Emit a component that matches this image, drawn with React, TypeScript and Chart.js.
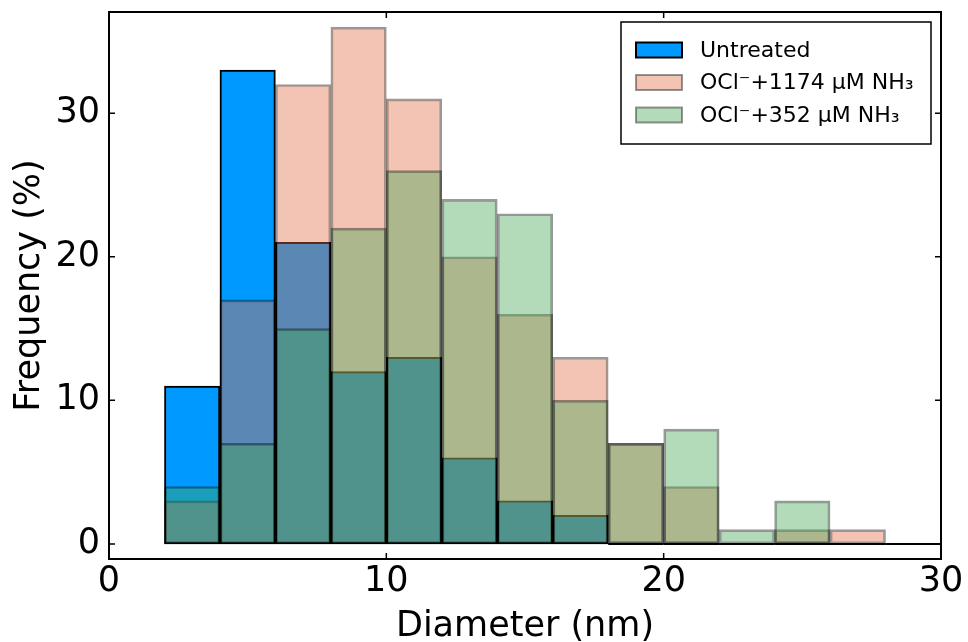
import React, { useEffect, useRef } from "react";
import { Chart, registerables } from "chart.js";

Chart.register(...registerables);

// ---- data ----
const binWidth = 2;
const binStarts = [2, 4, 6, 8, 10, 12, 14, 16, 18, 20, 22, 24, 26, 28];
const untreated = [11, 33, 21, 12, 13, 6, 3, 2, 0, 0, 0, 0, 0, 0];
const ocl1174 = [3, 17, 32, 36, 31, 20, 16, 13, 7, 4, 0, 1, 1, 0];
const ocl352 = [4, 7, 15, 22, 26, 24, 23, 10, 7, 8, 1, 3, 0, 0];
const xTicks = [0, 10, 20, 30];
const yTicks = [0, 10, 20, 30];
const seriesLabels = ["Untreated", "OCl⁻+1174 μM NH₃", "OCl⁻+352 μM NH₃"];

const FONT = "'DejaVu Sans', sans-serif";

const toPoints = (vals: number[]) =>
  vals.map((v, i) => ({ x: binStarts[i] + binWidth / 2, y: v }));

const styles = [
  { bg: "rgb(0,153,255)", border: "rgba(0,0,0,1)", bw: 2 },
  { bg: "rgba(225,107,67,0.4)", border: "rgba(0,0,0,0.4)", bw: 2 },
  { bg: "rgba(65,165,82,0.4)", border: "rgba(0,0,0,0.4)", bw: 2 },
];

const framePlugin = {
  id: "framePlugin",
  afterDatasetsDraw(chart: any) {
    const ctx = chart.ctx;
    const xs = chart.scales.x;
    const ys = chart.scales.y;
    const order = [0, 1, 2];
    ctx.save();
    order.forEach((di) => {
      const ds = chart.data.datasets[di];
      ds.data.forEach((p: any) => {
        if (p.y === 0) {
          ctx.beginPath();
          ctx.strokeStyle = styles[di].border;
          ctx.lineWidth = 2;
          ctx.moveTo(xs.getPixelForValue(p.x - binWidth / 2), ys.getPixelForValue(0));
          ctx.lineTo(xs.getPixelForValue(p.x + binWidth / 2), ys.getPixelForValue(0));
          ctx.stroke();
        }
      });
    });
    ctx.restore();
  },
  afterDraw(chart: any) {
    const ctx = chart.ctx;
    const a = chart.chartArea;
    const xs = chart.scales.x;
    const ys = chart.scales.y;
    ctx.save();
    ctx.strokeStyle = "#000";
    ctx.lineWidth = 1.5;
    const tl = 6;
    xTicks.forEach((v) => {
      const px = xs.getPixelForValue(v);
      ctx.beginPath();
      ctx.moveTo(px, a.bottom);
      ctx.lineTo(px, a.bottom - tl);
      ctx.moveTo(px, a.top);
      ctx.lineTo(px, a.top + tl);
      ctx.stroke();
    });
    yTicks.forEach((v) => {
      const py = ys.getPixelForValue(v);
      ctx.beginPath();
      ctx.moveTo(a.left, py);
      ctx.lineTo(a.left + tl, py);
      ctx.moveTo(a.right, py);
      ctx.lineTo(a.right - tl, py);
      ctx.stroke();
    });
    ctx.lineWidth = 2;
    ctx.strokeRect(a.left, a.top, a.right - a.left, a.bottom - a.top);

    // legend
    const bw = 310;
    const bh = 122;
    const bx = a.right - 10 - bw;
    const by = a.top + 10;
    ctx.fillStyle = "#fff";
    ctx.fillRect(bx, by, bw, bh);
    ctx.lineWidth = 1.5;
    ctx.strokeStyle = "#000";
    ctx.strokeRect(bx, by, bw, bh);
    const rows = [28, 60.5, 93];
    ctx.font = `22px ${FONT}`;
    ctx.textBaseline = "middle";
    ctx.textAlign = "left";
    seriesLabels.forEach((lab, i) => {
      const cy = by + rows[i];
      const sx = bx + 15;
      const sw = 46;
      const sh = 15;
      ctx.fillStyle = styles[i].bg;
      ctx.fillRect(sx, cy - sh / 2, sw, sh);
      ctx.strokeStyle = styles[i].border;
      ctx.lineWidth = 2;
      ctx.strokeRect(sx, cy - sh / 2, sw, sh);
      ctx.fillStyle = "#000";
      ctx.fillText(lab, bx + 79, cy + 1);
    });
    ctx.restore();
  },
};

export default function App() {
  const ref = useRef<HTMLCanvasElement | null>(null);

  useEffect(() => {
    if (!ref.current) return;
    const chart = new Chart(ref.current, {
      type: "bar",
      data: {
        datasets: [
          {
            label: seriesLabels[0],
            data: toPoints(untreated),
            backgroundColor: styles[0].bg,
            borderColor: styles[0].border,
            borderWidth: styles[0].bw,
            borderSkipped: false,
            order: 3,
          },
          {
            label: seriesLabels[1],
            data: toPoints(ocl1174),
            backgroundColor: styles[1].bg,
            borderColor: styles[1].border,
            borderWidth: styles[1].bw,
            borderSkipped: false,
            order: 2,
          },
          {
            label: seriesLabels[2],
            data: toPoints(ocl352),
            backgroundColor: styles[2].bg,
            borderColor: styles[2].border,
            borderWidth: styles[2].bw,
            borderSkipped: false,
            order: 1,
          },
        ] as any,
      },
      options: {
        animation: false,
        responsive: false,
        layout: { padding: { top: 12, right: 27, left: 0, bottom: 0 } },
        datasets: {
          bar: { barPercentage: 1, categoryPercentage: 1, grouped: false },
        } as any,
        plugins: {
          legend: { display: false },
          tooltip: { enabled: false },
        },
        scales: {
          x: {
            type: "linear",
            min: 0,
            max: 30,
            offset: false,
            grid: { display: false, drawTicks: false },
            border: { display: false },
            afterBuildTicks: (s: any) => {
              s.ticks = xTicks.map((v) => ({ value: v }));
            },
            afterFit: (s: any) => {
              s.height = 83;
              s.paddingLeft = 0;
              s.paddingRight = 0;
            },
            ticks: {
              padding: 2,
              color: "#000",
              font: { family: FONT, size: 35 },
              maxRotation: 0,
              callback: (v: any) => String(v),
            },
            title: {
              display: true,
              text: "Diameter (nm)",
              color: "#000",
              font: { family: FONT, size: 35 },
              padding: { top: 0, bottom: -6 },
            },
          },
          y: {
            type: "linear",
            min: -1.05,
            max: 37.05,
            grid: { display: false, drawTicks: false },
            border: { display: false },
            afterBuildTicks: (s: any) => {
              s.ticks = yTicks.map((v) => ({ value: v }));
            },
            afterFit: (s: any) => {
              s.width = 109;
              s.paddingTop = 0;
              s.paddingBottom = 0;
            },
            ticks: {
              padding: 9,
              color: "#000",
              font: { family: FONT, size: 35 },
              callback: (v: any) => String(v),
            },
            title: {
              display: true,
              text: "Frequency (%)",
              color: "#000",
              font: { family: FONT, size: 35 },
              padding: { top: 9, bottom: 0 },
            },
          },
        },
      },
      plugins: [framePlugin],
    });
    return () => chart.destroy();
  }, []);

  return (
    <div style={{ position: "absolute", left: 0, top: 0, width: 968, height: 642, background: "#fff" }}>
      <canvas ref={ref} width={968} height={642} />
    </div>
  );
}
